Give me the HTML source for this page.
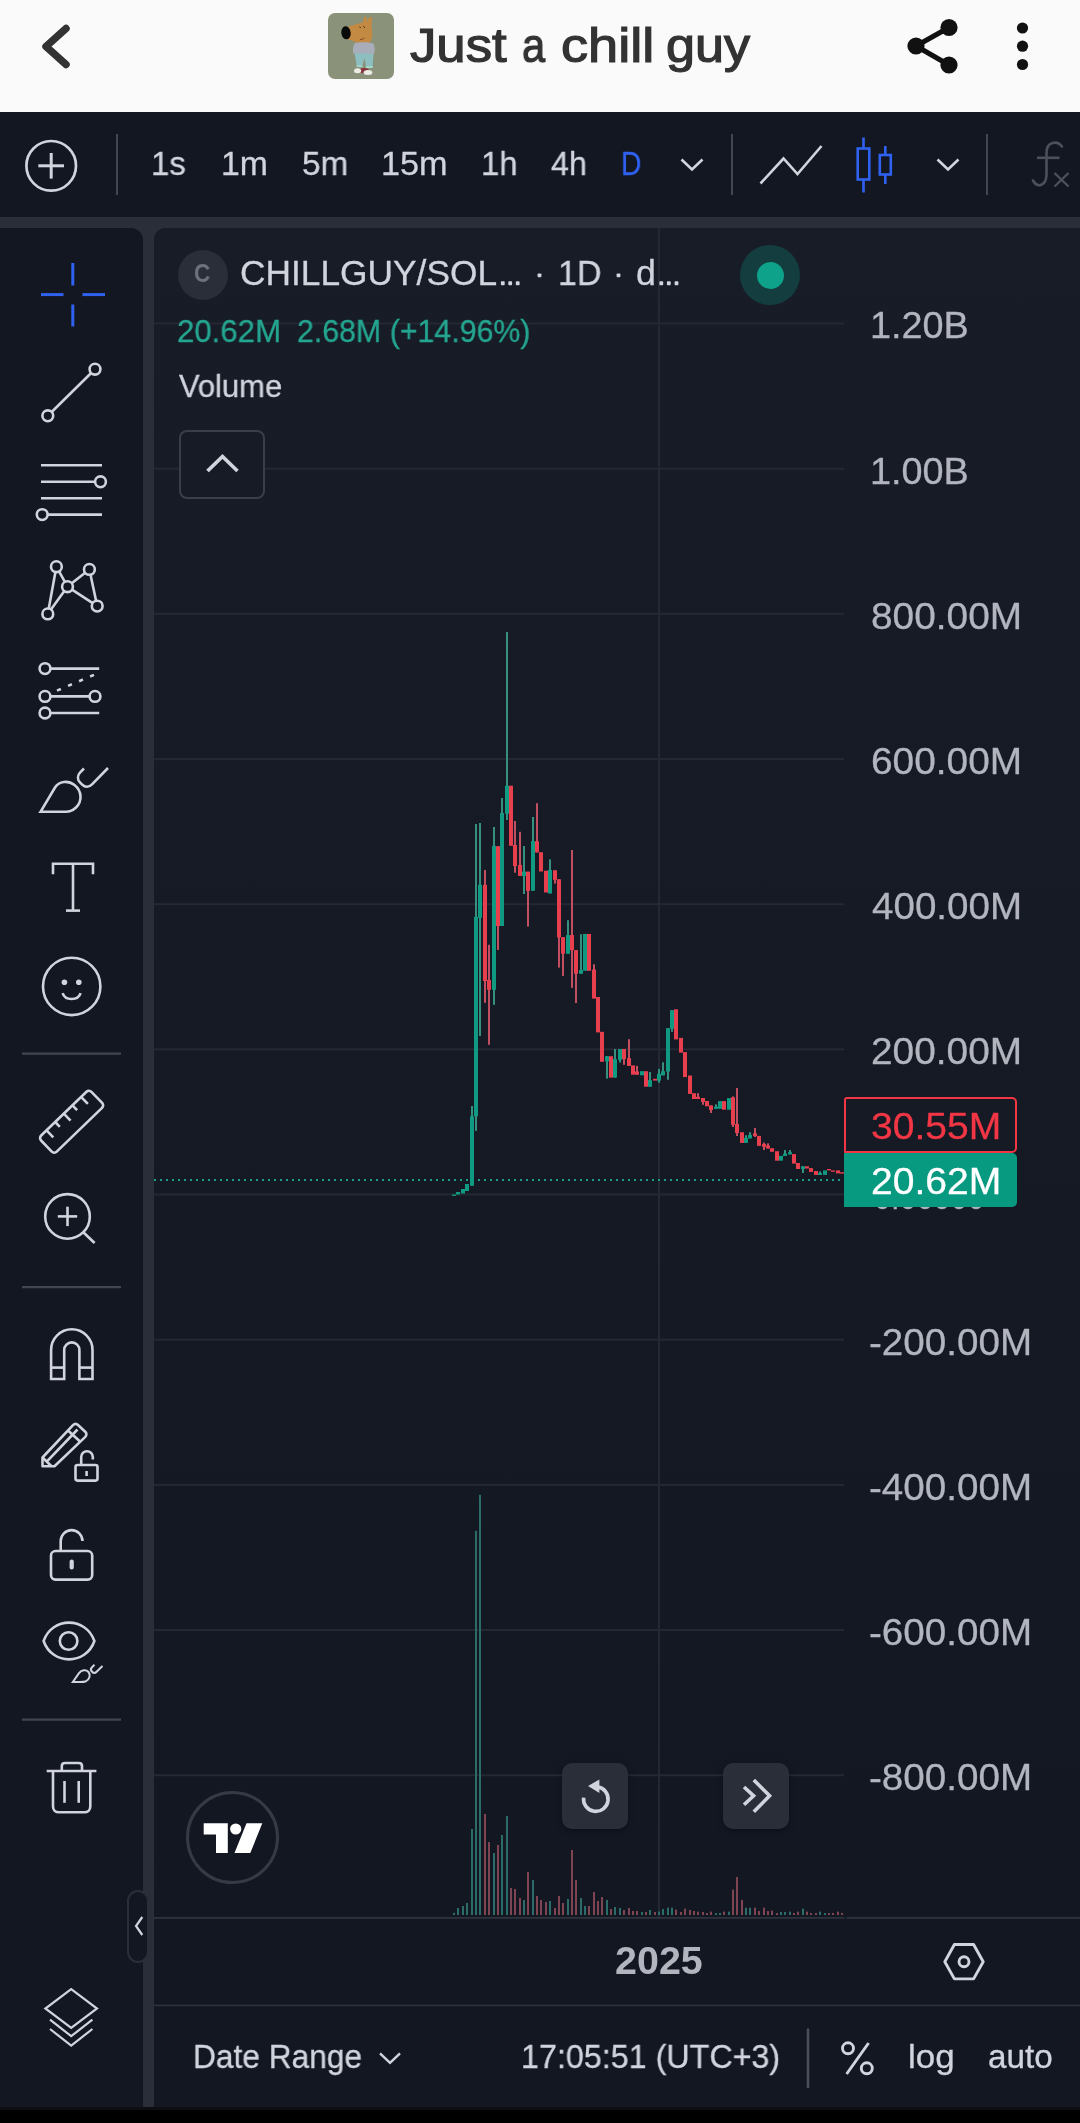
<!DOCTYPE html>
<html lang="en"><head><meta charset="utf-8"><title>Just a chill guy</title>
<meta name="viewport" content="width=1080">
<style>
html,body{margin:0;padding:0;background:#000;}
body{width:1080px;height:2123px;position:relative;overflow:hidden;font-family:"Liberation Sans",sans-serif;}
.abs{position:absolute;}
.t{position:absolute;white-space:pre;line-height:1;transform-origin:0 0;display:block;will-change:transform;}
#hdr{left:0;top:0;width:1080px;height:112px;background:#fafafa;}
#tb{left:0;top:112px;width:1080px;height:105px;background:#131722;}
#mid{left:0;top:217px;width:1080px;height:1890px;background:#2a2e39;}
#left{left:0;top:228px;width:143px;height:1879px;background:#131722;border-top-right-radius:12px;}
#chart{left:154px;top:228px;width:926px;height:1879px;background:#131722;border-top-left-radius:12px;overflow:hidden;}
#pane{left:0;top:0;width:926px;height:1690px;background:linear-gradient(#181c27,#131722);}
#nav{left:0;top:2107px;width:1080px;height:16px;background:#000;border-top:3px solid #0e0e11;box-sizing:border-box;}
svg{position:absolute;left:0;top:0;}
</style></head><body>
<div id="hdr" class="abs"></div><div id="tb" class="abs"></div><div id="mid" class="abs"></div>
<div id="left" class="abs"></div><div id="chart" class="abs"><div id="pane" class="abs"></div></div><div id="nav" class="abs"></div>
<svg width="1080" height="2123" viewBox="0 0 1080 2123" style="z-index:0">
<rect x="154" y="322.5" width="690" height="2" fill="#242833"/>
<rect x="154" y="467.7" width="690" height="2" fill="#242833"/>
<rect x="154" y="612.8" width="690" height="2" fill="#242833"/>
<rect x="154" y="758.0" width="690" height="2" fill="#242833"/>
<rect x="154" y="903.2" width="690" height="2" fill="#242833"/>
<rect x="154" y="1048.3" width="690" height="2" fill="#242833"/>
<rect x="154" y="1193.5" width="690" height="2" fill="#242833"/>
<rect x="154" y="1338.7" width="690" height="2" fill="#242833"/>
<rect x="154" y="1483.9" width="690" height="2" fill="#242833"/>
<rect x="154" y="1629.0" width="690" height="2" fill="#242833"/>
<rect x="154" y="1774.2" width="690" height="2" fill="#242833"/>
<rect x="658" y="228" width="2" height="1689" fill="#242833"/>
<rect x="154" y="1917" width="690.5" height="1.8" fill="#2e323d"/><rect x="846.5" y="1917" width="233.5" height="1.8" fill="#2e323d"/>
<rect x="154" y="2004.6" width="926" height="1.6" fill="#2e323d"/>
<rect x="453" y="1912.8" width="2" height="2.2" fill="#2c6c68"/>
<rect x="457" y="1908" width="2" height="7" fill="#2c6c68"/>
<rect x="462" y="1906" width="2" height="9" fill="#2c6c68"/>
<rect x="466" y="1903" width="2" height="12" fill="#2c6c68"/>
<rect x="471" y="1829" width="2" height="86" fill="#2c6c68"/>
<rect x="475" y="1530.8" width="2" height="384.2" fill="#2c6c68"/>
<rect x="479" y="1494.9" width="2" height="420.1" fill="#2c6c68"/>
<rect x="484" y="1814" width="2" height="101" fill="#7e4452"/>
<rect x="488" y="1842" width="2" height="73" fill="#7e4452"/>
<rect x="493" y="1853" width="2" height="62" fill="#2c6c68"/>
<rect x="497" y="1845" width="2" height="70" fill="#7e4452"/>
<rect x="501" y="1835" width="2" height="80" fill="#2c6c68"/>
<rect x="506" y="1816" width="2" height="99" fill="#2c6c68"/>
<rect x="510" y="1888" width="2" height="27" fill="#7e4452"/>
<rect x="514" y="1889" width="2" height="26" fill="#7e4452"/>
<rect x="519" y="1898" width="2" height="17" fill="#7e4452"/>
<rect x="523" y="1900" width="2" height="15" fill="#2c6c68"/>
<rect x="527" y="1872" width="2" height="43" fill="#7e4452"/>
<rect x="532" y="1880" width="2" height="35" fill="#2c6c68"/>
<rect x="536" y="1896" width="2" height="19" fill="#7e4452"/>
<rect x="540" y="1900" width="2" height="15" fill="#7e4452"/>
<rect x="545" y="1902" width="2" height="13" fill="#7e4452"/>
<rect x="549" y="1901" width="2" height="14" fill="#2c6c68"/>
<rect x="554" y="1908" width="2" height="7" fill="#7e4452"/>
<rect x="558" y="1896" width="2" height="19" fill="#7e4452"/>
<rect x="562" y="1903" width="2" height="12" fill="#7e4452"/>
<rect x="567" y="1899" width="2" height="16" fill="#2c6c68"/>
<rect x="571" y="1850" width="2" height="65" fill="#7e4452"/>
<rect x="575" y="1880" width="2" height="35" fill="#7e4452"/>
<rect x="580" y="1898" width="2" height="17" fill="#2c6c68"/>
<rect x="584" y="1906" width="2" height="9" fill="#2c6c68"/>
<rect x="588" y="1906" width="2" height="9" fill="#7e4452"/>
<rect x="593" y="1892" width="2" height="23" fill="#7e4452"/>
<rect x="597" y="1901" width="2" height="14" fill="#7e4452"/>
<rect x="601" y="1897" width="2" height="18" fill="#7e4452"/>
<rect x="606" y="1900" width="2" height="15" fill="#2c6c68"/>
<rect x="610" y="1909" width="2" height="6" fill="#7e4452"/>
<rect x="614" y="1907" width="2" height="8" fill="#2c6c68"/>
<rect x="619" y="1908" width="2" height="7" fill="#2c6c68"/>
<rect x="623" y="1910" width="2" height="5" fill="#7e4452"/>
<rect x="628" y="1908" width="2" height="7" fill="#7e4452"/>
<rect x="632" y="1911" width="2" height="4" fill="#7e4452"/>
<rect x="636" y="1911" width="2" height="4" fill="#7e4452"/>
<rect x="641" y="1912" width="2" height="3" fill="#2c6c68"/>
<rect x="645" y="1912" width="2" height="3" fill="#7e4452"/>
<rect x="649" y="1910" width="2" height="5" fill="#2c6c68"/>
<rect x="654" y="1912" width="2" height="3" fill="#7e4452"/>
<rect x="658" y="1911.6" width="2" height="3.4" fill="#2c6c68"/>
<rect x="662" y="1909" width="2" height="6" fill="#2c6c68"/>
<rect x="667" y="1907.7" width="2" height="7.3" fill="#2c6c68"/>
<rect x="671" y="1907.7" width="2" height="7.3" fill="#2c6c68"/>
<rect x="675" y="1909.6" width="2" height="5.4" fill="#7e4452"/>
<rect x="680" y="1912" width="2" height="3" fill="#7e4452"/>
<rect x="684" y="1908.7" width="2" height="6.3" fill="#7e4452"/>
<rect x="689" y="1910" width="2" height="5" fill="#7e4452"/>
<rect x="693" y="1911" width="2" height="4" fill="#7e4452"/>
<rect x="697" y="1911.6" width="2" height="3.4" fill="#7e4452"/>
<rect x="702" y="1912" width="2" height="3" fill="#7e4452"/>
<rect x="706" y="1913" width="2" height="2" fill="#7e4452"/>
<rect x="710" y="1911.6" width="2" height="3.4" fill="#7e4452"/>
<rect x="715" y="1913" width="2" height="2" fill="#2c6c68"/>
<rect x="719" y="1913" width="2" height="2" fill="#2c6c68"/>
<rect x="723" y="1911.6" width="2" height="3.4" fill="#7e4452"/>
<rect x="728" y="1911.6" width="2" height="3.4" fill="#2c6c68"/>
<rect x="732" y="1889.6" width="2" height="25.4" fill="#7e4452"/>
<rect x="736" y="1877" width="2" height="38" fill="#7e4452"/>
<rect x="741" y="1900" width="2" height="15" fill="#7e4452"/>
<rect x="745" y="1907.7" width="2" height="7.3" fill="#2c6c68"/>
<rect x="749" y="1907.7" width="2" height="7.3" fill="#2c6c68"/>
<rect x="754" y="1907.7" width="2" height="7.3" fill="#7e4452"/>
<rect x="758" y="1911" width="2" height="4" fill="#7e4452"/>
<rect x="763" y="1907.7" width="2" height="7.3" fill="#7e4452"/>
<rect x="767" y="1911" width="2" height="4" fill="#7e4452"/>
<rect x="771" y="1910.6" width="2" height="4.4" fill="#7e4452"/>
<rect x="776" y="1913" width="2" height="2" fill="#7e4452"/>
<rect x="780" y="1912" width="2" height="3" fill="#2c6c68"/>
<rect x="784" y="1912" width="2" height="3" fill="#2c6c68"/>
<rect x="789" y="1911.6" width="2" height="3.4" fill="#2c6c68"/>
<rect x="793" y="1913" width="2" height="2" fill="#7e4452"/>
<rect x="797" y="1911.6" width="2" height="3.4" fill="#7e4452"/>
<rect x="802" y="1908.7" width="2" height="6.3" fill="#2c6c68"/>
<rect x="806" y="1911.6" width="2" height="3.4" fill="#7e4452"/>
<rect x="810" y="1913" width="2" height="2" fill="#7e4452"/>
<rect x="815" y="1913" width="2" height="2" fill="#7e4452"/>
<rect x="819" y="1911.6" width="2" height="3.4" fill="#2c6c68"/>
<rect x="824" y="1913" width="2" height="2" fill="#2c6c68"/>
<rect x="828" y="1913" width="2" height="2" fill="#7e4452"/>
<rect x="832" y="1913" width="2" height="2" fill="#7e4452"/>
<rect x="837" y="1911.6" width="2" height="3.4" fill="#7e4452"/>
<rect x="841" y="1913" width="2" height="2" fill="#7e4452"/>
<line x1="154" y1="1180" x2="845" y2="1180" stroke="#1c9b87" stroke-width="2" stroke-dasharray="2 4"/>
<rect x="452" y="1194.5" width="4" height="1.4" fill="#119a82"/>
<rect x="456" y="1192" width="4" height="2.5" fill="#119a82"/>
<rect x="461" y="1189" width="4" height="4.5" fill="#119a82"/>
<rect x="465" y="1184" width="4" height="7" fill="#119a82"/>
<rect x="471" y="1106" width="2" height="79.7" fill="#36907f"/>
<rect x="470" y="1116.3" width="4" height="69.4" fill="#119a82"/>
<rect x="475" y="824" width="2" height="306.8" fill="#36907f"/>
<rect x="474" y="916.8" width="4" height="199.5" fill="#119a82"/>
<rect x="479" y="823" width="2" height="213" fill="#36907f"/>
<rect x="478" y="884.7" width="4" height="33.1" fill="#119a82"/>
<rect x="484" y="870" width="2" height="132.8" fill="#c04f62"/>
<rect x="483" y="884.9" width="4" height="96.1" fill="#e83f4f"/>
<rect x="488" y="944.8" width="2" height="100.0" fill="#c04f62"/>
<rect x="487" y="980" width="4" height="9.8" fill="#e83f4f"/>
<rect x="493" y="827" width="2" height="177.9" fill="#36907f"/>
<rect x="492" y="845.8" width="4" height="144.0" fill="#119a82"/>
<rect x="497" y="846" width="2" height="104" fill="#c04f62"/>
<rect x="496" y="846.3" width="4" height="79.7" fill="#e83f4f"/>
<rect x="501" y="798" width="2" height="128" fill="#36907f"/>
<rect x="500" y="813" width="4" height="113" fill="#119a82"/>
<rect x="506" y="632" width="2" height="188" fill="#36907f"/>
<rect x="505" y="785.7" width="4" height="28.0" fill="#119a82"/>
<rect x="509" y="785.7" width="4" height="60.1" fill="#e83f4f"/>
<rect x="514" y="821" width="2" height="51.7" fill="#c04f62"/>
<rect x="513" y="845" width="4" height="21" fill="#e83f4f"/>
<rect x="519" y="831.8" width="2" height="44.1" fill="#c04f62"/>
<rect x="518" y="865" width="4" height="10.9" fill="#e83f4f"/>
<rect x="523" y="846" width="2" height="48" fill="#36907f"/>
<rect x="522" y="871.7" width="4" height="4.2" fill="#119a82"/>
<rect x="527" y="871.7" width="2" height="54.9" fill="#c04f62"/>
<rect x="526" y="871.7" width="4" height="19.2" fill="#e83f4f"/>
<rect x="532" y="817" width="2" height="73.7" fill="#36907f"/>
<rect x="531" y="841.2" width="4" height="49.5" fill="#119a82"/>
<rect x="536" y="803.2" width="2" height="49.2" fill="#c04f62"/>
<rect x="535" y="841.2" width="4" height="11.2" fill="#e83f4f"/>
<rect x="539" y="852.2" width="4" height="19.3" fill="#e83f4f"/>
<rect x="544" y="870.7" width="4" height="21.8" fill="#e83f4f"/>
<rect x="549" y="859.3" width="2" height="34.1" fill="#36907f"/>
<rect x="548" y="870" width="4" height="23.4" fill="#119a82"/>
<rect x="554" y="870.3" width="2" height="13.3" fill="#c04f62"/>
<rect x="553" y="870.3" width="4" height="9.5" fill="#e83f4f"/>
<rect x="558" y="879.3" width="2" height="88.3" fill="#c04f62"/>
<rect x="557" y="879.3" width="4" height="58.2" fill="#e83f4f"/>
<rect x="562" y="937.2" width="2" height="38.7" fill="#c04f62"/>
<rect x="561" y="937.2" width="4" height="16.5" fill="#e83f4f"/>
<rect x="567" y="920.2" width="2" height="33.5" fill="#36907f"/>
<rect x="566" y="935.1" width="4" height="18.6" fill="#119a82"/>
<rect x="571" y="850" width="2" height="137.9" fill="#c04f62"/>
<rect x="570" y="935.1" width="4" height="15.1" fill="#e83f4f"/>
<rect x="575" y="950.2" width="2" height="52.8" fill="#c04f62"/>
<rect x="574" y="950.2" width="4" height="23.5" fill="#e83f4f"/>
<rect x="580" y="934.3" width="2" height="39.4" fill="#36907f"/>
<rect x="579" y="970.2" width="4" height="3.5" fill="#119a82"/>
<rect x="583" y="934" width="4" height="36.8" fill="#119a82"/>
<rect x="587" y="934" width="4" height="36.8" fill="#e83f4f"/>
<rect x="593" y="964.3" width="2" height="34.2" fill="#c04f62"/>
<rect x="592" y="969.6" width="4" height="28.9" fill="#e83f4f"/>
<rect x="596" y="997" width="4" height="35.4" fill="#e83f4f"/>
<rect x="600" y="1031.8" width="4" height="30.0" fill="#e83f4f"/>
<rect x="606" y="1056.2" width="2" height="22.4" fill="#36907f"/>
<rect x="605" y="1056.2" width="4" height="5.1" fill="#119a82"/>
<rect x="609" y="1056.2" width="4" height="21.4" fill="#e83f4f"/>
<rect x="614" y="1049" width="2" height="28.6" fill="#36907f"/>
<rect x="613" y="1059.2" width="4" height="18.4" fill="#119a82"/>
<rect x="619" y="1049" width="2" height="13.5" fill="#36907f"/>
<rect x="618" y="1049" width="4" height="10.8" fill="#119a82"/>
<rect x="623" y="1049" width="2" height="15.8" fill="#c04f62"/>
<rect x="622" y="1049" width="4" height="10" fill="#e83f4f"/>
<rect x="628" y="1039.2" width="2" height="26.7" fill="#c04f62"/>
<rect x="627" y="1058.2" width="4" height="7.7" fill="#e83f4f"/>
<rect x="631" y="1065.4" width="4" height="9.3" fill="#e83f4f"/>
<rect x="636" y="1065.9" width="2" height="8.8" fill="#c04f62"/>
<rect x="635" y="1071.5" width="4" height="3.2" fill="#e83f4f"/>
<rect x="640" y="1071.2" width="4" height="4.1" fill="#119a82"/>
<rect x="644" y="1071.2" width="4" height="15.5" fill="#e83f4f"/>
<rect x="649" y="1072" width="2" height="14.7" fill="#36907f"/>
<rect x="648" y="1080.1" width="4" height="6.6" fill="#119a82"/>
<rect x="653" y="1078.8" width="4" height="1.8" fill="#e83f4f"/>
<rect x="658" y="1068.9" width="2" height="13.8" fill="#36907f"/>
<rect x="657" y="1074" width="4" height="6.6" fill="#119a82"/>
<rect x="662" y="1062.3" width="2" height="13.0" fill="#36907f"/>
<rect x="661" y="1071.2" width="4" height="4.1" fill="#119a82"/>
<rect x="667" y="1028.2" width="2" height="51.6" fill="#36907f"/>
<rect x="666" y="1028.2" width="4" height="43.3" fill="#119a82"/>
<rect x="671" y="1010.2" width="2" height="21.6" fill="#36907f"/>
<rect x="670" y="1010.2" width="4" height="18.5" fill="#119a82"/>
<rect x="674" y="1009.3" width="4" height="30.1" fill="#e83f4f"/>
<rect x="679" y="1037.9" width="4" height="14.7" fill="#e83f4f"/>
<rect x="683" y="1052.1" width="4" height="25.0" fill="#e83f4f"/>
<rect x="688" y="1075.5" width="4" height="18.4" fill="#e83f4f"/>
<rect x="692" y="1093.2" width="4" height="5.8" fill="#e83f4f"/>
<rect x="697" y="1093.2" width="2" height="5.8" fill="#c04f62"/>
<rect x="696" y="1096.8" width="4" height="2.2" fill="#e83f4f"/>
<rect x="702" y="1098" width="2" height="6.8" fill="#c04f62"/>
<rect x="701" y="1098" width="4" height="3.9" fill="#e83f4f"/>
<rect x="705" y="1101" width="4" height="5.3" fill="#e83f4f"/>
<rect x="710" y="1105.5" width="2" height="7.5" fill="#c04f62"/>
<rect x="709" y="1105.5" width="4" height="4.5" fill="#e83f4f"/>
<rect x="715" y="1104.4" width="2" height="4.4" fill="#36907f"/>
<rect x="714" y="1106.7" width="4" height="2.1" fill="#119a82"/>
<rect x="718" y="1101.1" width="4" height="7.7" fill="#119a82"/>
<rect x="722" y="1101.1" width="4" height="8.6" fill="#e83f4f"/>
<rect x="727" y="1098.1" width="4" height="11.6" fill="#119a82"/>
<rect x="732" y="1096.4" width="2" height="30.6" fill="#c04f62"/>
<rect x="731" y="1097.4" width="4" height="27.4" fill="#e83f4f"/>
<rect x="736" y="1088" width="2" height="48" fill="#c04f62"/>
<rect x="735" y="1124" width="4" height="9" fill="#e83f4f"/>
<rect x="740" y="1132.2" width="4" height="10.7" fill="#e83f4f"/>
<rect x="745" y="1135.2" width="2" height="7.7" fill="#36907f"/>
<rect x="744" y="1137.9" width="4" height="5.0" fill="#119a82"/>
<rect x="749" y="1132.2" width="2" height="6.2" fill="#36907f"/>
<rect x="748" y="1134.9" width="4" height="3.5" fill="#119a82"/>
<rect x="754" y="1128" width="2" height="9" fill="#c04f62"/>
<rect x="753" y="1133.4" width="4" height="2.5" fill="#e83f4f"/>
<rect x="757" y="1135.9" width="4" height="10.0" fill="#e83f4f"/>
<rect x="763" y="1142.6" width="2" height="7.4" fill="#c04f62"/>
<rect x="762" y="1144" width="4" height="2.7" fill="#e83f4f"/>
<rect x="767" y="1143.3" width="2" height="5.2" fill="#c04f62"/>
<rect x="766" y="1145.6" width="4" height="2.9" fill="#e83f4f"/>
<rect x="770" y="1148.2" width="4" height="3.6" fill="#e83f4f"/>
<rect x="775" y="1151.2" width="4" height="9.5" fill="#e83f4f"/>
<rect x="779" y="1155.9" width="4" height="4.8" fill="#119a82"/>
<rect x="784" y="1150" width="2" height="5.9" fill="#36907f"/>
<rect x="783" y="1153.7" width="4" height="2.2" fill="#119a82"/>
<rect x="789" y="1150" width="2" height="4.4" fill="#36907f"/>
<rect x="788" y="1152.2" width="4" height="2.2" fill="#119a82"/>
<rect x="792" y="1154.1" width="4" height="9.5" fill="#e83f4f"/>
<rect x="796" y="1163" width="4" height="6" fill="#e83f4f"/>
<rect x="802" y="1166.3" width="2" height="6.7" fill="#36907f"/>
<rect x="801" y="1166.3" width="4" height="2.7" fill="#119a82"/>
<rect x="805" y="1166.3" width="4" height="2.2" fill="#e83f4f"/>
<rect x="809" y="1168.1" width="4" height="3.8" fill="#e83f4f"/>
<rect x="814" y="1171" width="4" height="3.9" fill="#e83f4f"/>
<rect x="819" y="1171.5" width="2" height="3.4" fill="#36907f"/>
<rect x="818" y="1173" width="4" height="1.9" fill="#119a82"/>
<rect x="823" y="1170.4" width="4" height="4.5" fill="#119a82"/>
<rect x="827" y="1169" width="4" height="1.4" fill="#e83f4f"/>
<rect x="831" y="1170.4" width="4" height="1.4" fill="#e83f4f"/>
<rect x="836" y="1170.4" width="4" height="3.0" fill="#e83f4f"/>
<rect x="840" y="1172.2" width="4" height="1.4" fill="#e83f4f"/>
</svg>
<div class="abs" style="left:328px;top:13px;width:66px;height:66px;border-radius:7px;background:#8a937a;overflow:hidden" id="avatar"></div>
<div class="abs" style="left:178px;top:250px;width:50px;height:50px;border-radius:50%;background:#2a2e39"></div>
<div class="abs" style="left:740px;top:245px;width:60px;height:60px;border-radius:50%;background:#133d3f"></div>
<div class="abs" style="left:756.5px;top:261.5px;width:27px;height:27px;border-radius:50%;background:#0fa28a"></div>
<div class="abs" style="left:179px;top:429.5px;width:82px;height:65px;border:2px solid #3a3e49;border-radius:8px;background:#171b26"></div>
<div class="abs" style="left:844px;top:1097px;width:169px;height:52px;border:2px solid #f23645;border-radius:3px 5px 5px 1px;background:#161a25;z-index:2"></div>
<div class="abs" style="left:844px;top:1153px;width:173px;height:54px;border-radius:0 5px 5px 0;background:#089981;z-index:2"></div>
<div class="abs" style="left:562px;top:1763px;width:66px;height:66px;border-radius:10px;background:#2a2e39;box-shadow:0 2px 6px rgba(0,0,0,.35)"></div>
<div class="abs" style="left:723px;top:1763px;width:66px;height:66px;border-radius:10px;background:#2a2e39;box-shadow:0 2px 6px rgba(0,0,0,.35)"></div>
<div class="abs" style="left:186px;top:1791px;width:87px;height:87px;border:3px solid #363a45;border-radius:50%;background:#131722"></div>
<div class="abs" style="left:127px;top:1889.5px;width:18px;height:69px;border:2.4px solid #2a2e39;border-radius:11.5px;background:#131722"></div>
<span class="t" id="t0" style="left:409.70px;top:22.12px;font-size:47.82px;color:#333333;font-weight:400;transform:scaleX(1.1021);-webkit-text-stroke:1.2px #333333">Just</span>
<span class="t" id="t1" style="left:521.86px;top:22.12px;font-size:47.82px;color:#333333;font-weight:400;transform:scaleX(0.8720);-webkit-text-stroke:1.2px #333333">a</span>
<span class="t" id="t2" style="left:560.74px;top:22.12px;font-size:47.82px;color:#333333;font-weight:400;transform:scaleX(1.1323);-webkit-text-stroke:1.2px #333333">chill</span>
<span class="t" id="t3" style="left:665.82px;top:22.12px;font-size:47.82px;color:#333333;font-weight:400;transform:scaleX(1.0909);-webkit-text-stroke:1.2px #333333">guy</span>
<span class="t" id="t4" style="left:151.25px;top:147.16px;font-size:33.72px;color:#d1d4dc;font-weight:400;transform:scaleX(0.9770);-webkit-text-stroke:0.3px #d1d4dc">1s</span>
<span class="t" id="t5" style="left:220.50px;top:147.16px;font-size:33.72px;color:#d1d4dc;font-weight:400;transform:scaleX(1.0011);-webkit-text-stroke:0.3px #d1d4dc">1m</span>
<span class="t" id="t6" style="left:301.91px;top:147.16px;font-size:33.72px;color:#d1d4dc;font-weight:400;transform:scaleX(0.9874);-webkit-text-stroke:0.3px #d1d4dc">5m</span>
<span class="t" id="t7" style="left:381.47px;top:147.16px;font-size:33.72px;color:#d1d4dc;font-weight:400;transform:scaleX(1.0162);-webkit-text-stroke:0.3px #d1d4dc">15m</span>
<span class="t" id="t8" style="left:480.85px;top:147.16px;font-size:33.72px;color:#d1d4dc;font-weight:400;transform:scaleX(0.9747);-webkit-text-stroke:0.3px #d1d4dc">1h</span>
<span class="t" id="t9" style="left:551.00px;top:147.16px;font-size:33.72px;color:#d1d4dc;font-weight:400;transform:scaleX(0.9566);-webkit-text-stroke:0.3px #d1d4dc">4h</span>
<span class="t" id="t10" style="left:621.12px;top:147.16px;font-size:33.72px;color:#2f62f0;font-weight:400;transform:scaleX(0.8381);-webkit-text-stroke:0.3px #2f62f0">D</span>
<span class="t" id="t11" style="left:194.04px;top:259.63px;font-size:26.31px;color:#6f727d;font-weight:700;transform:scaleX(0.8556)">C</span>
<span class="t" id="t12" style="left:239.80px;top:255.42px;font-size:35.17px;color:#d1d4dc;font-weight:400;transform:scaleX(1.0043);-webkit-text-stroke:0.3px #d1d4dc">CHILLGUY/SOL</span>
<span class="t" id="t13" style="left:557.96px;top:255.42px;font-size:35.17px;color:#d1d4dc;font-weight:400;transform:scaleX(0.9699);-webkit-text-stroke:0.3px #d1d4dc">1D</span>
<span class="t" id="t14" style="left:635.88px;top:255.42px;font-size:35.17px;color:#d1d4dc;font-weight:400;transform:scaleX(1.0176);-webkit-text-stroke:0.3px #d1d4dc">d</span>
<span class="t" id="t15" style="left:176.51px;top:316.30px;font-size:31.54px;color:#24a690;font-weight:400;transform:scaleX(0.9892);-webkit-text-stroke:0.3px #24a690">20.62M</span>
<span class="t" id="t16" style="left:296.54px;top:316.30px;font-size:31.54px;color:#24a690;font-weight:400;transform:scaleX(0.9615);-webkit-text-stroke:0.3px #24a690">2.68M (+14.96%)</span>
<span class="t" id="t17" style="left:178.70px;top:370.80px;font-size:31.54px;color:#d1d4dc;font-weight:400;transform:scaleX(0.9806);-webkit-text-stroke:0.3px #d1d4dc">Volume</span>
<span class="t" id="t18" style="left:869.68px;top:306.66px;font-size:37.50px;color:#b2b5be;font-weight:400;transform:scaleX(1.0086);-webkit-text-stroke:0.3px #b2b5be">1.20B</span>
<span class="t" id="t19" style="left:869.68px;top:452.83px;font-size:37.50px;color:#b2b5be;font-weight:400;transform:scaleX(1.0086);-webkit-text-stroke:0.3px #b2b5be">1.00B</span>
<span class="t" id="t20" style="left:870.66px;top:598.00px;font-size:37.50px;color:#b2b5be;font-weight:400;transform:scaleX(1.0351);-webkit-text-stroke:0.3px #b2b5be">800.00M</span>
<span class="t" id="t21" style="left:870.66px;top:743.17px;font-size:37.50px;color:#b2b5be;font-weight:400;transform:scaleX(1.0351);-webkit-text-stroke:0.3px #b2b5be">600.00M</span>
<span class="t" id="t22" style="left:871.70px;top:888.34px;font-size:37.50px;color:#b2b5be;font-weight:400;transform:scaleX(1.0279);-webkit-text-stroke:0.3px #b2b5be">400.00M</span>
<span class="t" id="t23" style="left:870.66px;top:1032.51px;font-size:37.50px;color:#b2b5be;font-weight:400;transform:scaleX(1.0351);-webkit-text-stroke:0.3px #b2b5be">200.00M</span>
<span class="t" id="t24" style="left:874.18px;top:1177.68px;font-size:37.50px;color:#b2b5be;font-weight:400;transform:scaleX(0.8153);z-index:1;-webkit-text-stroke:0.3px #b2b5be">0.00000</span>
<span class="t" id="t25" style="left:869.27px;top:1323.85px;font-size:37.50px;color:#b2b5be;font-weight:400;transform:scaleX(1.0291);-webkit-text-stroke:0.3px #b2b5be">-200.00M</span>
<span class="t" id="t26" style="left:869.27px;top:1469.02px;font-size:37.50px;color:#b2b5be;font-weight:400;transform:scaleX(1.0291);-webkit-text-stroke:0.3px #b2b5be">-400.00M</span>
<span class="t" id="t27" style="left:869.27px;top:1614.19px;font-size:37.50px;color:#b2b5be;font-weight:400;transform:scaleX(1.0291);-webkit-text-stroke:0.3px #b2b5be">-600.00M</span>
<span class="t" id="t28" style="left:869.27px;top:1759.36px;font-size:37.50px;color:#b2b5be;font-weight:400;transform:scaleX(1.0291);-webkit-text-stroke:0.3px #b2b5be">-800.00M</span>
<span class="t" id="t29" style="left:870.64px;top:1109.05px;font-size:36.92px;color:#f23645;font-weight:400;transform:scaleX(1.0582);z-index:3;-webkit-text-stroke:0.3px #f23645">30.55M</span>
<span class="t" id="t30" style="left:870.64px;top:1163.75px;font-size:36.92px;color:#ffffff;font-weight:400;transform:scaleX(1.0582);z-index:3;-webkit-text-stroke:0.3px #ffffff">20.62M</span>
<span class="t" id="t31" style="left:614.98px;top:1941.69px;font-size:38.52px;color:#b2b5be;font-weight:700;transform:scaleX(1.0245)">2025</span>
<span class="t" id="t32" style="left:192.50px;top:2040.12px;font-size:33.28px;color:#d1d4dc;font-weight:400;transform:scaleX(0.9524);-webkit-text-stroke:0.3px #d1d4dc">Date Range</span>
<span class="t" id="t33" style="left:520.86px;top:2040.12px;font-size:33.28px;color:#d1d4dc;font-weight:400;transform:scaleX(0.9701);-webkit-text-stroke:0.3px #d1d4dc">17:05:51 (UTC+3)</span>
<span class="t" id="t34" style="left:907.90px;top:2040.12px;font-size:33.28px;color:#d1d4dc;font-weight:400;transform:scaleX(1.0516);-webkit-text-stroke:0.3px #d1d4dc">log</span>
<span class="t" id="t35" style="left:987.80px;top:2040.12px;font-size:33.28px;color:#d1d4dc;font-weight:400;transform:scaleX(0.9961);-webkit-text-stroke:0.3px #d1d4dc">auto</span>
<svg width="1080" height="2123" viewBox="0 0 1080 2123" style="z-index:4">
<path d="M66 28.5 L46 46.5 L66 64.5" fill="none" stroke="#333333" stroke-width="7.5" stroke-linejoin="round" stroke-linecap="round" />
<line x1="949" y1="27.5" x2="916" y2="46" stroke="#111" stroke-width="5" stroke-linecap="butt" />
<line x1="916" y1="46" x2="949" y2="65" stroke="#111" stroke-width="5" stroke-linecap="butt" />
<circle cx="949" cy="27.5" r="8.6" fill="#111"/>
<circle cx="916" cy="46" r="8.6" fill="#111"/>
<circle cx="949" cy="65" r="8.6" fill="#111"/>
<circle cx="1022.5" cy="28" r="5.6" fill="#111"/>
<circle cx="1022.5" cy="46.2" r="5.6" fill="#111"/>
<circle cx="1022.5" cy="64.5" r="5.6" fill="#111"/>
<circle cx="51.2" cy="165.8" r="24.8" fill="none" stroke="#d1d4dc" stroke-width="2.7"/>
<line x1="38.3" y1="165.8" x2="64" y2="165.8" stroke="#d1d4dc" stroke-width="3" stroke-linecap="butt" />
<line x1="51.2" y1="153" x2="51.2" y2="178.6" stroke="#d1d4dc" stroke-width="3" stroke-linecap="butt" />
<line x1="117" y1="134" x2="117" y2="195" stroke="#434651" stroke-width="2" stroke-linecap="butt" />
<line x1="732" y1="134" x2="732" y2="195" stroke="#434651" stroke-width="2" stroke-linecap="butt" />
<line x1="987" y1="134" x2="987" y2="195" stroke="#434651" stroke-width="2" stroke-linecap="butt" />
<path d="M681.5 159.5 L692 169.5 L702.5 159.5" fill="none" stroke="#d1d4dc" stroke-width="2.6" stroke-linejoin="miter" stroke-linecap="butt" />
<path d="M937.5 159.5 L948 169.5 L958.5 159.5" fill="none" stroke="#d1d4dc" stroke-width="2.6" stroke-linejoin="miter" stroke-linecap="butt" />
<path d="M760.5 183.5 L783.5 158.5 L797.5 174 L821.5 146" fill="none" stroke="#d1d4dc" stroke-width="2.6" stroke-linejoin="miter" stroke-linecap="butt" />
<rect x="857.7" y="148.5" width="11.6" height="31" fill="none" stroke="#2f62f0" stroke-width="2.6"/>
<line x1="863.5" y1="137.5" x2="863.5" y2="148.5" stroke="#2f62f0" stroke-width="2.6" stroke-linecap="butt" />
<line x1="863.5" y1="179.5" x2="863.5" y2="192.5" stroke="#2f62f0" stroke-width="2.6" stroke-linecap="butt" />
<rect x="879.8" y="155" width="11" height="19.5" fill="none" stroke="#2f62f0" stroke-width="2.6"/>
<line x1="885.3" y1="146" x2="885.3" y2="155" stroke="#2f62f0" stroke-width="2.6" stroke-linecap="butt" />
<line x1="885.3" y1="174.5" x2="885.3" y2="184" stroke="#2f62f0" stroke-width="2.6" stroke-linecap="butt" />
<path d="M1062 146.5 C1057 140 1046.5 141.5 1046.5 153 L1046.5 174 C1046.5 186 1037.5 188.5 1033 180.5" fill="none" stroke="#4c505b" stroke-width="2.6" stroke-linejoin="round" stroke-linecap="round" />
<line x1="1037" y1="157.8" x2="1059.5" y2="157.8" stroke="#4c505b" stroke-width="2.6" stroke-linecap="butt" />
<line x1="1054.5" y1="173" x2="1068.5" y2="186.5" stroke="#4c505b" stroke-width="2.4" stroke-linecap="butt" />
<line x1="1068.5" y1="173" x2="1054.5" y2="186.5" stroke="#4c505b" stroke-width="2.4" stroke-linecap="butt" />
<line x1="72.8" y1="263" x2="72.8" y2="285.5" stroke="#2f62f0" stroke-width="3" stroke-linecap="butt" />
<line x1="72.8" y1="304.5" x2="72.8" y2="326.5" stroke="#2f62f0" stroke-width="3" stroke-linecap="butt" />
<line x1="41" y1="294.6" x2="63.5" y2="294.6" stroke="#2f62f0" stroke-width="3" stroke-linecap="butt" />
<line x1="82.5" y1="294.6" x2="105" y2="294.6" stroke="#2f62f0" stroke-width="3" stroke-linecap="butt" />
<circle cx="95" cy="369.2" r="5.4" fill="none" stroke="#d1d4dc" stroke-width="2.6"/>
<circle cx="47.8" cy="415.8" r="5.4" fill="none" stroke="#d1d4dc" stroke-width="2.6"/>
<line x1="91.16" y1="372.99" x2="51.64" y2="412.01" stroke="#d1d4dc" stroke-width="2.6" stroke-linecap="butt" />
<line x1="41" y1="465.3" x2="102" y2="465.3" stroke="#d1d4dc" stroke-width="2.6" stroke-linecap="butt" />
<line x1="41" y1="481.8" x2="95" y2="481.8" stroke="#d1d4dc" stroke-width="2.6" stroke-linecap="butt" />
<circle cx="100.5" cy="481.8" r="5.4" fill="none" stroke="#d1d4dc" stroke-width="2.6"/>
<line x1="41" y1="498.2" x2="102" y2="498.2" stroke="#d1d4dc" stroke-width="2.6" stroke-linecap="butt" />
<line x1="47.7" y1="514.6" x2="102" y2="514.6" stroke="#d1d4dc" stroke-width="2.6" stroke-linecap="butt" />
<circle cx="42.2" cy="514.6" r="5.4" fill="none" stroke="#d1d4dc" stroke-width="2.6"/>
<circle cx="56.4" cy="566.7" r="5.4" fill="none" stroke="#d1d4dc" stroke-width="2.6"/>
<circle cx="89.4" cy="569.4" r="5.4" fill="none" stroke="#d1d4dc" stroke-width="2.6"/>
<circle cx="67.5" cy="586.7" r="5.4" fill="none" stroke="#d1d4dc" stroke-width="2.6"/>
<circle cx="97.2" cy="606.1" r="5.4" fill="none" stroke="#d1d4dc" stroke-width="2.6"/>
<circle cx="47.8" cy="613.9" r="5.4" fill="none" stroke="#d1d4dc" stroke-width="2.6"/>
<line x1="48.77" y1="608.59" x2="55.43" y2="572.01" stroke="#d1d4dc" stroke-width="2.6" stroke-linecap="butt" />
<line x1="59.02" y1="571.42" x2="64.88" y2="581.98" stroke="#d1d4dc" stroke-width="2.6" stroke-linecap="butt" />
<line x1="71.74" y1="583.35" x2="85.16" y2="572.75" stroke="#d1d4dc" stroke-width="2.6" stroke-linecap="butt" />
<line x1="90.52" y1="574.68" x2="96.08" y2="600.82" stroke="#d1d4dc" stroke-width="2.6" stroke-linecap="butt" />
<line x1="92.68" y1="603.15" x2="72.02" y2="589.65" stroke="#d1d4dc" stroke-width="2.6" stroke-linecap="butt" />
<line x1="64.33" y1="591.07" x2="50.97" y2="609.53" stroke="#d1d4dc" stroke-width="2.6" stroke-linecap="butt" />
<circle cx="45" cy="668.6" r="5.4" fill="none" stroke="#d1d4dc" stroke-width="2.6"/>
<line x1="50.5" y1="668.6" x2="99.2" y2="668.6" stroke="#d1d4dc" stroke-width="2.6" stroke-linecap="butt" />
<line x1="57" y1="690.6" x2="94.4" y2="674.7" stroke="#d1d4dc" stroke-width="2.6" stroke-linecap="butt" stroke-dasharray="4.2 7.8"/>
<circle cx="45" cy="696.4" r="5.4" fill="none" stroke="#d1d4dc" stroke-width="2.6"/>
<line x1="50.5" y1="696.4" x2="89.5" y2="696.4" stroke="#d1d4dc" stroke-width="2.6" stroke-linecap="butt" />
<circle cx="95" cy="696.4" r="5.4" fill="none" stroke="#d1d4dc" stroke-width="2.6"/>
<circle cx="45" cy="713" r="5.4" fill="none" stroke="#d1d4dc" stroke-width="2.6"/>
<line x1="50.5" y1="713" x2="99.2" y2="713" stroke="#d1d4dc" stroke-width="2.6" stroke-linecap="butt" />
<path d="M40.5 811.8 L55 787.5 C59 781 68 780 74.5 785 C82 791 82.5 801 76 807.5 C72 811.5 68 811.8 62 811.8 Z" fill="none" stroke="#d1d4dc" stroke-width="2.6" stroke-linejoin="miter" stroke-linecap="round" />
<path d="M84 768.5 L80.2 772.3 C77.2 775.3 77.2 779.6 80.2 782.6 L82.2 784.6 C85.2 787.6 89 787.4 92 784.4 L108 768" fill="none" stroke="#d1d4dc" stroke-width="2.6" stroke-linejoin="miter" stroke-linecap="butt" />
<path d="M53 874.2 L53 863.8 L93 863.8 L93 874.2" fill="none" stroke="#d1d4dc" stroke-width="2.6" stroke-linejoin="miter" stroke-linecap="butt" />
<line x1="73" y1="863.8" x2="73" y2="910.6" stroke="#d1d4dc" stroke-width="2.6" stroke-linecap="butt" />
<line x1="66" y1="910.6" x2="80" y2="910.6" stroke="#d1d4dc" stroke-width="2.6" stroke-linecap="butt" />
<circle cx="71.7" cy="986.4" r="28.7" fill="none" stroke="#d1d4dc" stroke-width="2.6"/>
<circle cx="64.4" cy="982.2" r="2.8" fill="#d1d4dc"/><circle cx="78.8" cy="982.2" r="2.8" fill="#d1d4dc"/>
<path d="M62.6 993.2 C65 1001 78.2 1001 80.6 993.2" fill="none" stroke="#d1d4dc" stroke-width="2.6" stroke-linejoin="round" stroke-linecap="butt" />
<line x1="22" y1="1053.6" x2="121" y2="1053.6" stroke="#434651" stroke-width="2.2" stroke-linecap="butt" />
<line x1="22" y1="1287.2" x2="121" y2="1287.2" stroke="#434651" stroke-width="2.2" stroke-linecap="butt" />
<line x1="22" y1="1719.6" x2="121" y2="1719.6" stroke="#434651" stroke-width="2.2" stroke-linecap="butt" />
<g transform="translate(71.6 1121.7) rotate(-44)"><rect x="-35" y="-11.2" width="70" height="22.4" rx="3.5" fill="none" stroke="#d1d4dc" stroke-width="2.6"/><line x1="-24" y1="-11.2" x2="-24" y2="-1.5" stroke="#d1d4dc" stroke-width="2.6" stroke-linecap="butt" /><line x1="-12" y1="-11.2" x2="-12" y2="-4.5" stroke="#d1d4dc" stroke-width="2.6" stroke-linecap="butt" /><line x1="0" y1="-11.2" x2="0" y2="-1.5" stroke="#d1d4dc" stroke-width="2.6" stroke-linecap="butt" /><line x1="12" y1="-11.2" x2="12" y2="-4.5" stroke="#d1d4dc" stroke-width="2.6" stroke-linecap="butt" /><line x1="24" y1="-11.2" x2="24" y2="-1.5" stroke="#d1d4dc" stroke-width="2.6" stroke-linecap="butt" /></g>
<circle cx="67.5" cy="1216.4" r="22.3" fill="none" stroke="#d1d4dc" stroke-width="2.6"/>
<line x1="57.8" y1="1216.4" x2="77.2" y2="1216.4" stroke="#d1d4dc" stroke-width="2.6" stroke-linecap="butt" />
<line x1="67.5" y1="1206.7" x2="67.5" y2="1226.1" stroke="#d1d4dc" stroke-width="2.6" stroke-linecap="butt" />
<line x1="83.3" y1="1232.2" x2="94.6" y2="1243" stroke="#d1d4dc" stroke-width="2.6" stroke-linecap="butt" />
<path d="M51.1 1379 L51.1 1350 A20.7 20.7 0 0 1 92.5 1350 L92.5 1379 L79.4 1379 L79.4 1350 A7.6 7.6 0 0 0 64.2 1350 L64.2 1379 Z" fill="none" stroke="#d1d4dc" stroke-width="2.6" stroke-linejoin="miter" stroke-linecap="round" />
<line x1="51.1" y1="1367.6" x2="64.2" y2="1367.6" stroke="#d1d4dc" stroke-width="2.6" stroke-linecap="butt" />
<line x1="79.4" y1="1367.6" x2="92.5" y2="1367.6" stroke="#d1d4dc" stroke-width="2.6" stroke-linecap="butt" />
<path d="M42.5 1466.2 L42.5 1457.5 L73 1425.2 C74.5 1423.6 76.5 1423.6 78 1425 L85.2 1431.8 C86.8 1433.3 86.8 1435.3 85.3 1436.9 L54.5 1466.2 Z" fill="none" stroke="#d1d4dc" stroke-width="2.6" stroke-linejoin="round" stroke-linecap="round" />
<path d="M46.5 1461.8 L77.5 1429.5" fill="none" stroke="#d1d4dc" stroke-width="2.6" stroke-linejoin="round" stroke-linecap="butt" />
<path d="M42.5 1457.5 L51.5 1466.2" fill="none" stroke="#d1d4dc" stroke-width="2.6" stroke-linejoin="round" stroke-linecap="butt" />
<path d="M68 1430.5 L80.3 1441.8" fill="none" stroke="#d1d4dc" stroke-width="2.6" stroke-linejoin="round" stroke-linecap="butt" />
<rect x="75.5" y="1465" width="22" height="15.6" rx="2" fill="none" stroke="#d1d4dc" stroke-width="2.6"/>
<path d="M81.2 1465 L81.2 1457 A5.8 5.8 0 0 1 92.8 1457 L92.8 1459.5" fill="none" stroke="#d1d4dc" stroke-width="2.6" stroke-linejoin="round" stroke-linecap="butt" />
<rect x="85.3" y="1471" width="2.6" height="5" fill="#d1d4dc"/>
<rect x="51" y="1551" width="41.2" height="28.6" rx="4.5" fill="none" stroke="#d1d4dc" stroke-width="2.6"/>
<path d="M60.7 1551 L60.7 1541 A10.9 10.9 0 0 1 82.5 1541" fill="none" stroke="#d1d4dc" stroke-width="2.6" stroke-linejoin="round" stroke-linecap="butt" />
<rect x="69.6" y="1559.5" width="4.2" height="10" rx="2.1" fill="#d1d4dc"/>
<path d="M43.6 1641 C52 1616.5 86 1616.5 94.4 1641 C86 1665.5 52 1665.5 43.6 1641 Z" fill="none" stroke="#d1d4dc" stroke-width="2.6" stroke-linejoin="miter" stroke-linecap="round" />
<circle cx="68.6" cy="1641" r="8.8" fill="none" stroke="#d1d4dc" stroke-width="2.6"/>
<path d="M72.8 1682 L79 1673.2 C81.5 1669.8 86 1669.3 88.5 1672 C91 1675 89.5 1679.5 86 1681.2 C84 1682 82 1682 80 1682 Z" fill="none" stroke="#d1d4dc" stroke-width="2" stroke-linejoin="miter" stroke-linecap="round" />
<path d="M94.5 1664.8 L92 1667.2 C90.6 1668.6 90.6 1670.4 92 1671.8 C93.4 1673.2 95.2 1673.2 96.6 1671.8 L102.5 1666" fill="none" stroke="#d1d4dc" stroke-width="2" stroke-linejoin="miter" stroke-linecap="butt" />
<line x1="46.7" y1="1771" x2="96.4" y2="1771" stroke="#d1d4dc" stroke-width="2.6" stroke-linecap="butt" />
<path d="M61.8 1771 L61.8 1766 C61.8 1764 63 1763 65 1763 L78.8 1763 C80.8 1763 82 1764 82 1766 L82 1771" fill="none" stroke="#d1d4dc" stroke-width="2.6" stroke-linejoin="round" stroke-linecap="butt" />
<path d="M53 1771 L53 1806.5 C53 1810 55.5 1812.3 59 1812.3 L84.3 1812.3 C87.8 1812.3 90.3 1810 90.3 1806.5 L90.3 1771" fill="none" stroke="#d1d4dc" stroke-width="2.6" stroke-linejoin="round" stroke-linecap="butt" />
<line x1="64.5" y1="1781" x2="64.5" y2="1802.8" stroke="#d1d4dc" stroke-width="2.6" stroke-linecap="butt" />
<line x1="78.7" y1="1781" x2="78.7" y2="1802.8" stroke="#d1d4dc" stroke-width="2.6" stroke-linecap="butt" />
<path d="M71.2 1989.2 L97 2008.5 L71.2 2027.8 L45.4 2008.5 Z" fill="none" stroke="#d1d4dc" stroke-width="2.2" stroke-linejoin="miter" stroke-linecap="round" />
<path d="M50 2019.6 L71.2 2036.2 L92.4 2019.6" fill="none" stroke="#d1d4dc" stroke-width="2.2" stroke-linejoin="miter" stroke-linecap="butt" />
<path d="M50 2029 L71.2 2045.6 L92.4 2029" fill="none" stroke="#d1d4dc" stroke-width="2.2" stroke-linejoin="miter" stroke-linecap="butt" />
<path d="M207.5 471 L222.5 456.5 L237.5 471" fill="none" stroke="#d1d4dc" stroke-width="3.7" stroke-linejoin="miter"/>
<rect x="537.6" y="273.5" width="3.8" height="3.8" rx="0.8" fill="#d1d4dc"/>
<rect x="616.6" y="273.5" width="3.8" height="3.8" rx="0.8" fill="#d1d4dc"/>
<rect x="500.90000000000003" y="281.3" width="3.8" height="3.9" rx="0.8" fill="#d1d4dc"/>
<rect x="508.3" y="281.3" width="3.8" height="3.9" rx="0.8" fill="#d1d4dc"/>
<rect x="515.8000000000001" y="281.3" width="3.8" height="3.9" rx="0.8" fill="#d1d4dc"/>
<rect x="659.4" y="281.3" width="3.8" height="3.9" rx="0.8" fill="#d1d4dc"/>
<rect x="666.9" y="281.3" width="3.8" height="3.9" rx="0.8" fill="#d1d4dc"/>
<rect x="674.6" y="281.3" width="3.8" height="3.9" rx="0.8" fill="#d1d4dc"/>
<path d="M583.6 1797.6 A12.3 12.3 0 1 0 597.5 1786.9" fill="none" stroke="#d1d4dc" stroke-width="3.6"/>
<path d="M588 1786 L599.4 1779.4 L599.4 1792.9 Z" fill="#d1d4dc"/>
<path d="M744 1787 L753.6 1795.8 L744 1804.8 M753.8 1780 L769.6 1795.8 L753.8 1811.8" fill="none" stroke="#d1d4dc" stroke-width="3.6" stroke-linejoin="miter"/>
<path d="M203.7 1823.3 L227.8 1823.3 L227.8 1853 L216 1853 L216 1834.6 L203.7 1834.6 Z" fill="#fff"/>
<circle cx="235.7" cy="1829" r="5.6" fill="#fff"/>
<path d="M246.5 1823.3 L262.3 1823.3 L250.3 1853 L234.5 1853 Z" fill="#fff"/>
<path d="M142.3 1917 L136 1926 L142.3 1935" fill="none" stroke="#d1d4dc" stroke-width="2.2" stroke-linejoin="miter"/>
<path d="M944.8 1961.7 L954.4 1944.5 L973.6 1944.5 L983.2 1961.7 L973.6 1978.9 L954.4 1978.9 Z" fill="none" stroke="#d1d4dc" stroke-width="2.9" stroke-linejoin="round"/>
<circle cx="964" cy="1961.7" r="5" fill="none" stroke="#d1d4dc" stroke-width="2.9"/>
<path d="M380 2053.4 L390 2062.8 L400 2053.4" fill="none" stroke="#d1d4dc" stroke-width="2.5" stroke-linejoin="miter"/>
<rect x="806.7" y="2028.5" width="2.6" height="59.5" fill="#4a4e59"/>
<circle cx="848" cy="2048.3" r="5.5" fill="none" stroke="#d1d4dc" stroke-width="2.9"/><circle cx="866.8" cy="2068.3" r="5.5" fill="none" stroke="#d1d4dc" stroke-width="2.9"/><line x1="868.6" y1="2043" x2="846.6" y2="2074" stroke="#d1d4dc" stroke-width="2.9"/>
<g id="dog">
<path d="M349 26.3 L362.8 22.6 L364.3 17.2 Q365.6 15.6 366.6 17.4 L367.2 21.2 L369.6 17.2 Q371.4 15.9 372 18.2 L371.6 24.5 L372.4 36 L370.2 42.6 L358 43.2 L352.5 40.8 L347.5 39.2 Z" fill="#c38a43"/>
<ellipse cx="346" cy="32.8" rx="4.7" ry="6.6" fill="#0a0a0a" transform="rotate(-8 346 32.8)"/>
<path d="M359.5 26.6 l1.2 1.4 M363.6 26.2 l1.2 1.6" stroke="#3a2a18" stroke-width="1" fill="none"/>
<path d="M360 39.5 q2.5 0.5 4.5 -1.8" stroke="#7a4a20" stroke-width="0.9" fill="none"/>
<path d="M355 43 Q352.2 47 353.2 53.5 L373.6 54.6 Q376 48 373.2 43.4 Q364 41.4 355 43 Z" fill="#a9adb9"/>
<path d="M354.6 53.2 L373.4 54 L372.6 67 L366.2 67.2 L364.6 58 L362.2 66.6 L356.8 66.2 Z" fill="#8dbfc0"/>
<path d="M356.6 65 L362.6 65.6 L362.4 67.4 L356.4 66.8 Z M365.8 66 L372.8 66 L372.8 68 L365.8 68 Z" fill="#9fd6c8"/>
<ellipse cx="364" cy="70.6" rx="5" ry="2.6" fill="#8a3340"/>
<ellipse cx="357.6" cy="70.8" rx="3.6" ry="2.5" fill="#ecece4"/>
<ellipse cx="368" cy="72.6" rx="4.4" ry="2.5" fill="#ecece4"/>
</g>
</svg>
</body></html>
